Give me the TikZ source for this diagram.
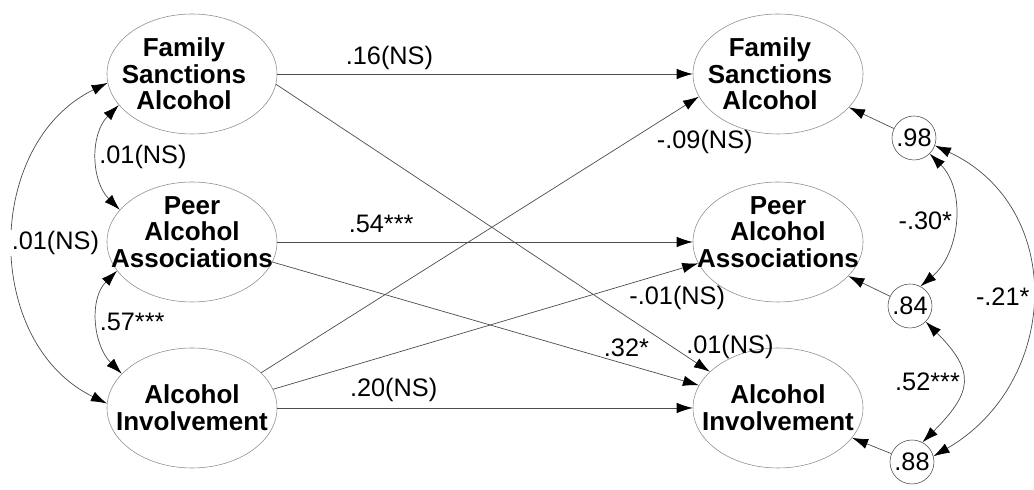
\documentclass[tikz,border=0pt]{standalone}
\usepackage{fontspec}
\setmainfont{Liberation Sans}
\usetikzlibrary{arrows.meta,shapes.geometric}
\definecolor{ink}{gray}{0.3}
\definecolor{rim}{gray}{0.55}

\begin{document}
\begin{tikzpicture}[>={Latex[length=4mm,width=2.6mm,color=black]},
    latent/.style={draw=rim,ellipse,minimum width=4.25cm,minimum height=3cm,inner sep=0pt},
    ttl/.style={font=\fontsize{18.5}{19}\selectfont\bfseries,align=center,inner sep=0pt},
    resid/.style={draw=ink,circle,minimum size=1.1cm,inner sep=0pt,
                  font=\fontsize{18}{18}\selectfont},
    coef/.style={font=\fontsize{18}{18}\selectfont,inner sep=1pt,text=black},
    arr/.style={->,ink,line width=0.5pt},
    cor/.style={<->,ink,line width=0.5pt}]
  \useasboundingbox (0,0) rectangle (25.85,12.25);
  % first wave
  \node[latent] (fam1) at (4.8,10.4) {};
  \node[latent] (peer1) at (4.8,6.2) {};
  \node[latent] (alc1) at (4.8,2.05) {};
  % second wave
  \node[latent] (fam2) at (19.45,10.4) {};
  \node[latent] (peer2) at (19.45,6.2) {};
  \node[latent] (alc2) at (19.45,2.05) {};
  \node[ttl,xshift=-2mm] (fam1-t) at (fam1) {Family\\Sanctions\\Alcohol};
  \node[ttl,yshift=2.5mm] (peer1-t) at (peer1) {Peer\\Alcohol\\Associations};
  \node[ttl] (alc1-t) at (alc1) {Alcohol\\Involvement};
  \node[ttl,xshift=-2mm] (fam2-t) at (fam2) {Family\\Sanctions\\Alcohol};
  \node[ttl,yshift=2.5mm] (peer2-t) at (peer2) {Peer\\Alcohol\\Associations};
  \node[ttl] (alc2-t) at (alc2) {Alcohol\\Involvement};
  % disturbances
  \node[resid] (d1) at (22.85,8.8) {.98};
  \node[resid] (d2) at (22.75,4.6) {.84};
  \node[resid] (d3) at (22.8,0.7) {.88};

  % stability paths
  \draw[arr] (fam1.east) -- node[coef,pos=.27,above=2pt] {.16(NS)} (fam2.west);
  \draw[arr] (peer1.east) -- node[coef,pos=.25,above=5pt] {.54***} (peer2.west);
  \draw[arr] (alc1.east) -- node[coef,pos=.28,above=3pt] {.20(NS)} (alc2.west);
  % cross-lagged paths
  \draw[arr] (fam1.-7) -- node[coef,pos=.96,anchor=south west,xshift=-2mm] {.01(NS)} (alc2.152);
  \draw[arr] (peer1.-14) -- node[coef,pos=.83,above=4pt] {.32*} (alc2.164);
  \draw[arr] (alc1.27) -- node[coef,pos=.9,anchor=north west,yshift=-1mm] {-.09(NS)} (fam2.196);
  \draw[arr] (alc1.13) -- node[coef,pos=.834,anchor=north west] {-.01(NS)} (peer2.195);

  % correlations among first-wave factors
  \draw[cor] (fam1.186) to[out=206,in=154,looseness=1.1]
    node[coef,pos=.5,anchor=west,fill=white,xshift=-3pt] {.01(NS)} (alc1.177);
  \draw[cor] (fam1.203) to[out=225,in=135]
    node[coef,pos=.5,anchor=west] {.01(NS)} (peer1.156);
  \draw[cor] (peer1.201) to[out=225,in=135]
    node[coef,pos=.5,anchor=west] {.57***} (alc1.154);

  % disturbances and their covariances
  \draw[arr] (d1) -- (fam2);
  \draw[arr] (d2) -- (peer2);
  \draw[arr] (d3) -- (alc2);
  \draw[cor] (d1.-45) to[out=-45,in=40]
    node[coef,pos=.5,anchor=east] {-.30*} (d2.62);
  \draw[cor] (d2.-45) to[out=-45,in=45,looseness=1.5]
    node[coef,pos=.5,anchor=east] {.52***} (d3.62);
  \draw[cor] (d1.-20) to[out=-25,in=30,looseness=1.2]
    node[coef,pos=.5,anchor=east] {-.21*} (d3.15);
\end{tikzpicture}
\end{document}
